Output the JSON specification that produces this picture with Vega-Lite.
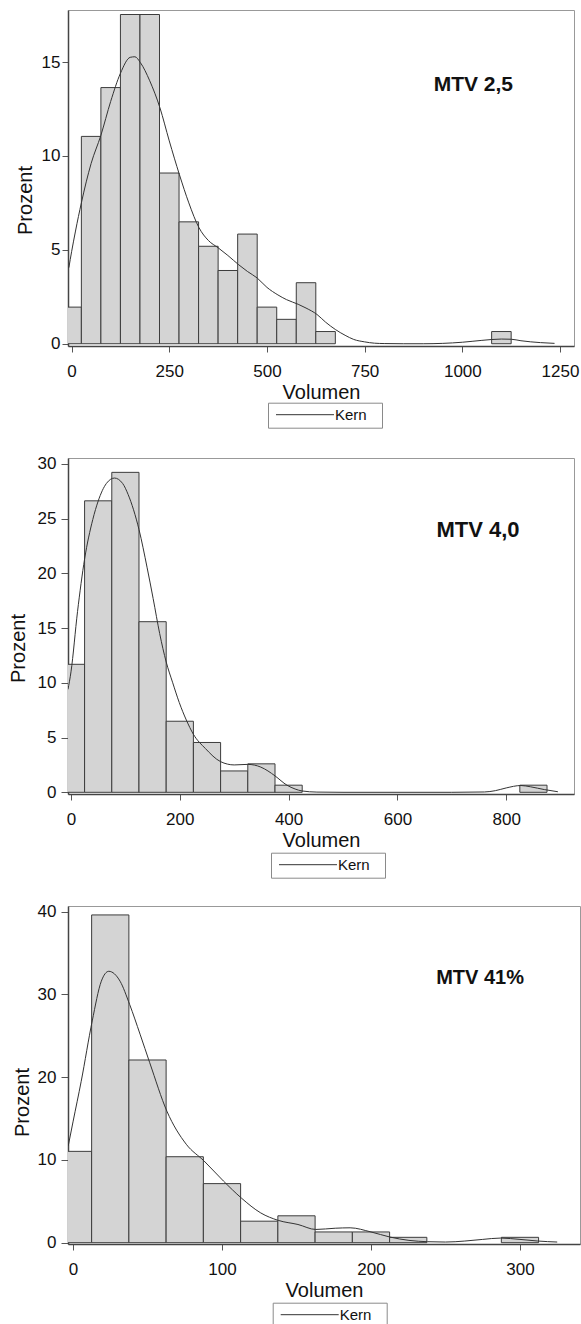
{
  "$schema": "https://vega.github.io/schema/vega-lite/v6.json",
  "background": "white",
  "padding": {"left": 8, "top": 9, "right": 0, "bottom": 0},
  "bounds": "flush",
  "spacing": 112,
  "datasets": {
    "bars1": [
      {"lo": -25, "hi": 25, "pct": 1.95}, {"lo": 25, "hi": 75, "pct": 11.04}, {"lo": 75, "hi": 125, "pct": 13.64},
      {"lo": 125, "hi": 175, "pct": 17.53}, {"lo": 175, "hi": 225, "pct": 17.53}, {"lo": 225, "hi": 275, "pct": 9.09},
      {"lo": 275, "hi": 325, "pct": 6.49}, {"lo": 325, "hi": 375, "pct": 5.19}, {"lo": 375, "hi": 425, "pct": 3.9},
      {"lo": 425, "hi": 475, "pct": 5.84}, {"lo": 475, "hi": 525, "pct": 1.95}, {"lo": 525, "hi": 575, "pct": 1.3},
      {"lo": 575, "hi": 625, "pct": 3.25}, {"lo": 625, "hi": 675, "pct": 0.65}, {"lo": 1075, "hi": 1125, "pct": 0.65}
    ],
    "kern1": [
      {"vol": -7, "dens": 4.05}, {"vol": 0, "dens": 4.9}, {"vol": 10, "dens": 6.0}, {"vol": 25, "dens": 7.5},
      {"vol": 50, "dens": 9.6}, {"vol": 75, "dens": 11.1}, {"vol": 100, "dens": 12.9}, {"vol": 125, "dens": 14.4},
      {"vol": 150, "dens": 15.25}, {"vol": 162, "dens": 15.28}, {"vol": 176, "dens": 14.97}, {"vol": 200, "dens": 14.0},
      {"vol": 226, "dens": 12.57}, {"vol": 250, "dens": 10.8}, {"vol": 276, "dens": 9.0}, {"vol": 300, "dens": 7.5},
      {"vol": 326, "dens": 6.18}, {"vol": 350, "dens": 5.5}, {"vol": 375, "dens": 5.11}, {"vol": 400, "dens": 4.7},
      {"vol": 428, "dens": 4.2}, {"vol": 450, "dens": 3.85}, {"vol": 475, "dens": 3.5}, {"vol": 500, "dens": 3.0},
      {"vol": 528, "dens": 2.6}, {"vol": 550, "dens": 2.35}, {"vol": 580, "dens": 2.1}, {"vol": 600, "dens": 1.9},
      {"vol": 628, "dens": 1.56}, {"vol": 650, "dens": 1.15}, {"vol": 675, "dens": 0.76}, {"vol": 700, "dens": 0.45},
      {"vol": 722, "dens": 0.23}, {"vol": 750, "dens": 0.1}, {"vol": 775, "dens": 0.03}, {"vol": 800, "dens": 0.01},
      {"vol": 850, "dens": 0.0}, {"vol": 900, "dens": 0.0}, {"vol": 950, "dens": 0.02}, {"vol": 1000, "dens": 0.08},
      {"vol": 1050, "dens": 0.18}, {"vol": 1100, "dens": 0.25}, {"vol": 1125, "dens": 0.24}, {"vol": 1150, "dens": 0.16},
      {"vol": 1200, "dens": 0.06}, {"vol": 1236, "dens": 0.02}
    ],
    "bars2": [
      {"lo": -25, "hi": 25, "pct": 11.69}, {"lo": 25, "hi": 75, "pct": 26.62}, {"lo": 75, "hi": 125, "pct": 29.22},
      {"lo": 125, "hi": 175, "pct": 15.58}, {"lo": 175, "hi": 225, "pct": 6.49}, {"lo": 225, "hi": 275, "pct": 4.55},
      {"lo": 275, "hi": 325, "pct": 1.95}, {"lo": 325, "hi": 375, "pct": 2.6}, {"lo": 375, "hi": 425, "pct": 0.65},
      {"lo": 825, "hi": 875, "pct": 0.65}
    ],
    "kern2": [
      {"vol": -5.5, "dens": 9.4}, {"vol": 0, "dens": 11.0}, {"vol": 12, "dens": 16.5}, {"vol": 25, "dens": 21.3},
      {"vol": 40, "dens": 24.9}, {"vol": 50, "dens": 26.6}, {"vol": 65, "dens": 28.2}, {"vol": 80, "dens": 28.7},
      {"vol": 95, "dens": 28.2}, {"vol": 105, "dens": 27.2}, {"vol": 115, "dens": 25.8}, {"vol": 125, "dens": 24.0},
      {"vol": 140, "dens": 20.5}, {"vol": 151, "dens": 17.7}, {"vol": 163, "dens": 14.5}, {"vol": 175, "dens": 11.9},
      {"vol": 187, "dens": 10.0}, {"vol": 199, "dens": 8.2}, {"vol": 212, "dens": 6.6}, {"vol": 225, "dens": 5.3},
      {"vol": 247, "dens": 4.0}, {"vol": 275, "dens": 2.8}, {"vol": 300, "dens": 2.5}, {"vol": 325, "dens": 2.55},
      {"vol": 349, "dens": 2.3}, {"vol": 362, "dens": 1.95}, {"vol": 375, "dens": 1.5}, {"vol": 397, "dens": 0.65},
      {"vol": 412, "dens": 0.3}, {"vol": 425, "dens": 0.12}, {"vol": 452, "dens": 0.02}, {"vol": 500, "dens": 0.0},
      {"vol": 700, "dens": 0.0}, {"vol": 760, "dens": 0.03}, {"vol": 780, "dens": 0.15}, {"vol": 800, "dens": 0.4},
      {"vol": 827, "dens": 0.62}, {"vol": 845, "dens": 0.5}, {"vol": 870, "dens": 0.25}, {"vol": 895, "dens": 0.05}
    ],
    "bars3": [
      {"lo": -12.5, "hi": 12.5, "pct": 11.04}, {"lo": 12.5, "hi": 37.5, "pct": 39.61}, {"lo": 37.5, "hi": 62.5, "pct": 22.08},
      {"lo": 62.5, "hi": 87.5, "pct": 10.39}, {"lo": 87.5, "hi": 112.5, "pct": 7.14}, {"lo": 112.5, "hi": 137.5, "pct": 2.6},
      {"lo": 137.5, "hi": 162.5, "pct": 3.25}, {"lo": 162.5, "hi": 187.5, "pct": 1.3}, {"lo": 187.5, "hi": 212.5, "pct": 1.3},
      {"lo": 212.5, "hi": 237.5, "pct": 0.65}, {"lo": 287.5, "hi": 312.5, "pct": 0.65}
    ],
    "kern3": [
      {"vol": -3.2, "dens": 11.7}, {"vol": 0, "dens": 14.6}, {"vol": 5.5, "dens": 19.5}, {"vol": 12.9, "dens": 26.8},
      {"vol": 19, "dens": 31.6}, {"vol": 24, "dens": 32.8}, {"vol": 31.6, "dens": 31.6}, {"vol": 38, "dens": 28.8},
      {"vol": 45, "dens": 25.2}, {"vol": 51.5, "dens": 21.75}, {"vol": 63, "dens": 15.9}, {"vol": 76, "dens": 11.9},
      {"vol": 88, "dens": 9.87}, {"vol": 101, "dens": 7.45}, {"vol": 113, "dens": 5.4}, {"vol": 126, "dens": 3.6},
      {"vol": 137.7, "dens": 2.7}, {"vol": 151, "dens": 2.2}, {"vol": 163, "dens": 1.6}, {"vol": 176, "dens": 1.75},
      {"vol": 186, "dens": 1.8}, {"vol": 200, "dens": 1.3}, {"vol": 212.8, "dens": 0.68}, {"vol": 225.5, "dens": 0.28},
      {"vol": 238, "dens": 0.12}, {"vol": 250, "dens": 0.08}, {"vol": 263, "dens": 0.2}, {"vol": 275, "dens": 0.4},
      {"vol": 287, "dens": 0.56}, {"vol": 300, "dens": 0.4}, {"vol": 312, "dens": 0.2}, {"vol": 325, "dens": 0.08}
    ]
  },
  "vconcat": [
    {
      "width": 506,
      "height": 336,
      "title": {"text": "MTV 2,5", "anchor": "end", "frame": "group", "orient": "top", "offset": -101.5, "baseline": "alphabetic", "dx": -61, "fontSize": 21},
      "layer": [
        {
          "data": {"name": "bars1"},
          "mark": {"type": "rect", "fill": "#d4d4d4", "stroke": "#3c3c3c", "strokeWidth": 1, "clip": true},
          "encoding": {
            "x": {"field": "lo", "type": "quantitative", "scale": {"domain": [-9.2, 1285.8], "nice": false, "zero": false},
                  "axis": {"values": [0, 250, 500, 750, 1000, 1250], "format": "d", "title": "Volumen"}},
            "x2": {"field": "hi"},
            "y": {"field": "pct", "type": "quantitative", "scale": {"domain": [-0.12, 17.77], "nice": false, "zero": false},
                  "axis": {"values": [0, 5, 10, 15], "title": "Prozent", "titleX": -37, "titleY": 190, "titleBaseline": "alphabetic"}},
            "y2": {"datum": 0}
          }
        },
        {
          "data": {"name": "kern1"},
          "mark": {"type": "line", "strokeWidth": 1, "interpolate": "monotone", "clip": true},
          "encoding": {
            "x": {"field": "vol", "type": "quantitative", "scale": {"domain": [-9.2, 1285.8], "nice": false, "zero": false},
                  "axis": {"values": [0, 250, 500, 750, 1000, 1250], "format": "d", "title": "Volumen"}},
            "y": {"field": "dens", "type": "quantitative", "scale": {"domain": [-0.12, 17.77], "nice": false, "zero": false},
                  "axis": {"values": [0, 5, 10, 15], "title": "Prozent", "titleX": -37, "titleY": 190, "titleBaseline": "alphabetic"}},
            "color": {"datum": "Kern", "scale": {"range": ["#333333"]},
                      "legend": {"orient": "none", "legendX": 200, "legendY": 392.7, "title": null,
                                 "symbolType": "M-0.833,0L8.833,0M15.75,0", "symbolSize": 144, "symbolStrokeWidth": 1, "symbolOffset": 1, "labelOffset": 46.5, "padding": 4.5}}
          }
        }
      ]
    },
    {
      "width": 506,
      "height": 336,
      "title": {"text": "MTV 4,0", "anchor": "end", "frame": "group", "orient": "top", "offset": -104, "baseline": "alphabetic", "dx": -54.4, "fontSize": 22},
      "layer": [
        {
          "data": {"name": "bars2"},
          "mark": {"type": "rect", "fill": "#d4d4d4", "stroke": "#3c3c3c", "strokeWidth": 1, "clip": true},
          "encoding": {
            "x": {"field": "lo", "type": "quantitative", "scale": {"domain": [-5.5, 924.6], "nice": false, "zero": false},
                  "axis": {"values": [0, 200, 400, 600, 800], "format": "d", "title": "Volumen"}},
            "x2": {"field": "hi"},
            "y": {"field": "pct", "type": "quantitative", "scale": {"domain": [-0.155, 30.53], "nice": false, "zero": false},
                  "axis": {"values": [0, 5, 10, 15, 20, 25, 30], "title": "Prozent", "titleX": -43.5, "titleY": 190, "titleBaseline": "alphabetic", "tickSize": 7, "labelPadding": 5}},
            "y2": {"datum": 0}
          }
        },
        {
          "data": {"name": "kern2"},
          "mark": {"type": "line", "strokeWidth": 1, "interpolate": "monotone", "clip": true},
          "encoding": {
            "x": {"field": "vol", "type": "quantitative", "scale": {"domain": [-5.5, 924.6], "nice": false, "zero": false},
                  "axis": {"values": [0, 200, 400, 600, 800], "format": "d", "title": "Volumen"}},
            "y": {"field": "dens", "type": "quantitative", "scale": {"domain": [-0.155, 30.53], "nice": false, "zero": false},
                  "axis": {"values": [0, 5, 10, 15, 20, 25, 30], "title": "Prozent", "titleX": -43.5, "titleY": 190, "titleBaseline": "alphabetic", "tickSize": 7, "labelPadding": 5}},
            "color": {"datum": "Kern", "scale": {"range": ["#333333"]},
                      "legend": {"orient": "none", "legendX": 203, "legendY": 394.7, "title": null,
                                 "symbolType": "M-0.833,0L8.833,0M15.75,0", "symbolSize": 144, "symbolStrokeWidth": 1, "symbolOffset": 1, "labelOffset": 46.5, "padding": 4.5}}
          }
        }
      ]
    },
    {
      "width": 512,
      "height": 338,
      "title": {"text": "MTV 41%", "anchor": "end", "frame": "group", "orient": "top", "offset": -101.5, "baseline": "alphabetic", "dx": -56, "fontSize": 20},
      "layer": [
        {
          "data": {"name": "bars3"},
          "mark": {"type": "rect", "fill": "#d4d4d4", "stroke": "#3c3c3c", "strokeWidth": 1, "clip": true},
          "encoding": {
            "x": {"field": "lo", "type": "quantitative", "scale": {"domain": [-3.36, 340.3], "nice": false, "zero": false},
                  "axis": {"values": [0, 100, 200, 300], "format": "d", "title": "Volumen"}},
            "x2": {"field": "hi"},
            "y": {"field": "pct", "type": "quantitative", "scale": {"domain": [-0.157, 40.69], "nice": false, "zero": false},
                  "axis": {"values": [0, 10, 20, 30, 40], "title": "Prozent", "titleX": -40, "titleY": 196, "titleBaseline": "alphabetic", "tickSize": 7, "labelPadding": 5}},
            "y2": {"datum": 0}
          }
        },
        {
          "data": {"name": "kern3"},
          "mark": {"type": "line", "strokeWidth": 1, "interpolate": "monotone", "clip": true},
          "encoding": {
            "x": {"field": "vol", "type": "quantitative", "scale": {"domain": [-3.36, 340.3], "nice": false, "zero": false},
                  "axis": {"values": [0, 100, 200, 300], "format": "d", "title": "Volumen"}},
            "y": {"field": "dens", "type": "quantitative", "scale": {"domain": [-0.157, 40.69], "nice": false, "zero": false},
                  "axis": {"values": [0, 10, 20, 30, 40], "title": "Prozent", "titleX": -40, "titleY": 196, "titleBaseline": "alphabetic", "tickSize": 7, "labelPadding": 5}},
            "color": {"datum": "Kern", "scale": {"range": ["#333333"]},
                      "legend": {"orient": "none", "legendX": 204.7, "legendY": 396.7, "title": null,
                                 "symbolType": "M-0.833,0L8.833,0M15.75,0", "symbolSize": 144, "symbolStrokeWidth": 1, "symbolOffset": 1, "labelOffset": 46.5, "padding": 4.5}}
          }
        }
      ]
    }
  ],
  "resolve": {"scale": {"color": "independent"}, "legend": {"color": "independent"}},
  "config": {
    "font": "Liberation Sans",
    "view": {"stroke": "#999999", "strokeWidth": 1},
    "title": {"font": "Liberation Sans", "fontWeight": "bold", "color": "#111111"},
    "axis": {
      "grid": false,
      "labelFont": "Liberation Sans", "labelFontSize": 17, "labelColor": "#111111",
      "titleFont": "Liberation Sans", "titleFontSize": 20, "titleFontWeight": "normal", "titleColor": "#111111",
      "tickColor": "#555555", "tickSize": 6, "domainColor": "#444444", "domainWidth": 1.5
    },
    "axisX": {"labelPadding": 11, "titlePadding": 3, "labelFlush": false},
    "axisY": {"labelPadding": 2, "titlePadding": 4},
    "legend": {
      "strokeColor": "#8a8a8a", "fillColor": "white",
      "labelFont": "Liberation Sans", "labelFontSize": 15, "labelColor": "#111111"
    }
  }
}
